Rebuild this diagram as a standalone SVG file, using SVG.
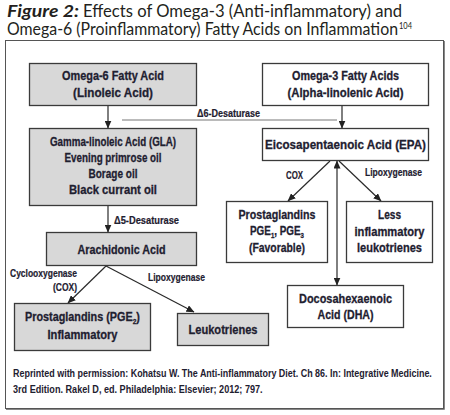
<svg xmlns="http://www.w3.org/2000/svg" width="450" height="415" viewBox="0 0 450 415">
<defs>
<marker id="ah" markerUnits="userSpaceOnUse" markerWidth="8" markerHeight="7" refX="7.5" refY="3.5" orient="auto-start-reverse">
<path d="M0,0 L8,3.5 L0,7 z" fill="#222"/>
</marker>
</defs>
<style>
.t{font-family:Lato,'Open Sans',sans-serif;fill:#231f20}
.n{font-family:'Liberation Sans',Arial,sans-serif;font-weight:bold;font-size:13px;fill:#1e2030;stroke:#1e2030;stroke-width:0.3;text-anchor:middle}
.l{font-family:'Liberation Sans',Arial,sans-serif;font-weight:bold;font-size:10.5px;fill:#1e2030;stroke:#1e2030;stroke-width:0.2}
.c{font-family:'Liberation Sans',Arial,sans-serif;font-weight:bold;font-size:10px;fill:#1e2030}
.g{fill:#d8d8d8;stroke:#3a3a3a;stroke-width:1.3}
.w{fill:#fff;stroke:#3a3a3a;stroke-width:1.3}
.e{stroke:#2a2a2a;stroke-width:1.2;fill:none}
</style>
<rect width="450" height="415" fill="#fff"/>
<g id="title">
<text class="t" x="7" y="17" font-size="17.5" font-weight="bold" font-style="italic" textLength="72" lengthAdjust="spacingAndGlyphs">Figure 2:</text>
<text class="t" x="83" y="17" font-size="17.5" textLength="319" lengthAdjust="spacingAndGlyphs">Effects of Omega-3 (Anti-inflammatory) and</text>
<text class="t" x="7" y="35" font-size="17.5" textLength="391" lengthAdjust="spacingAndGlyphs">Omega-6 (Proinflammatory) Fatty Acids on Inflammation</text>
<text class="t" x="399" y="29" font-size="8.5" textLength="13" lengthAdjust="spacingAndGlyphs">104</text>
</g>
<g id="frame">
<rect x="5.5" y="40.5" width="438" height="368" fill="none" stroke="#555" stroke-width="1"/>
<polyline points="444.5,41 444.5,409.5 6,409.5" fill="none" stroke="#888" stroke-width="1"/>
</g>
<g id="connectors">
<line class="e" x1="108" y1="106" x2="108" y2="128" marker-end="url(#ah)"/>
<line class="e" x1="342" y1="106" x2="342" y2="128" marker-end="url(#ah)"/>
<line stroke="#777" stroke-width="1" x1="122" y1="120" x2="337" y2="120"/>
<line class="e" x1="108" y1="206" x2="108" y2="232" marker-end="url(#ah)"/>
<line class="e" x1="106" y1="266" x2="68" y2="303" marker-end="url(#ah)"/>
<line class="e" x1="106" y1="266" x2="194" y2="312" marker-end="url(#ah)"/>
<line class="e" x1="330" y1="161" x2="288" y2="201" marker-end="url(#ah)"/>
<line class="e" x1="339" y1="161" x2="381" y2="201" marker-end="url(#ah)"/>
<line class="e" stroke-width="1.8" x1="337" y1="161" x2="337" y2="285" marker-start="url(#ah)" marker-end="url(#ah)"/>
<text class="l" x="197" y="116.5" textLength="63" lengthAdjust="spacingAndGlyphs">Δ6-Desaturase</text>
<text class="l" x="114" y="224" textLength="65" lengthAdjust="spacingAndGlyphs">Δ5-Desaturase</text>
<text class="l" x="77" y="277" text-anchor="end" textLength="67" lengthAdjust="spacingAndGlyphs">Cyclooxygenase</text>
<text class="l" x="77" y="291" text-anchor="end" textLength="24" lengthAdjust="spacingAndGlyphs">(COX)</text>
<text class="l" x="148" y="281" textLength="57" lengthAdjust="spacingAndGlyphs">Lipoxygenase</text>
<text class="l" x="286" y="179" textLength="17" lengthAdjust="spacingAndGlyphs">COX</text>
<text class="l" x="365" y="176" textLength="57" lengthAdjust="spacingAndGlyphs">Lipoxygenase</text>
</g>
<g id="omega6">
<rect class="g" x="29.5" y="63.5" width="167" height="42"/>
<text class="n" x="113" y="80" textLength="102" lengthAdjust="spacingAndGlyphs">Omega-6 Fatty Acid</text>
<text class="n" x="113" y="97" textLength="80" lengthAdjust="spacingAndGlyphs">(Linoleic Acid)</text>
</g>
<g id="omega3">
<rect class="w" x="262.5" y="63.5" width="166" height="42"/>
<text class="n" x="345.5" y="80" textLength="107" lengthAdjust="spacingAndGlyphs">Omega-3 Fatty Acids</text>
<text class="n" x="345.5" y="97" textLength="116" lengthAdjust="spacingAndGlyphs">(Alpha-linolenic Acid)</text>
</g>
<g id="gla">
<rect class="g" x="29.5" y="128.5" width="167" height="77"/>
<text class="n" x="113" y="146" textLength="126" lengthAdjust="spacingAndGlyphs">Gamma-linoleic Acid (GLA)</text>
<text class="n" x="113" y="162" textLength="97" lengthAdjust="spacingAndGlyphs">Evening primrose oil</text>
<text class="n" x="113" y="178" textLength="49" lengthAdjust="spacingAndGlyphs">Borage oil</text>
<text class="n" x="113" y="194" textLength="88" lengthAdjust="spacingAndGlyphs">Black currant oil</text>
</g>
<g id="epa">
<rect class="w" x="262.5" y="128.5" width="166" height="32"/>
<g transform="translate(345.5,0) scale(0.895,1)">
<text class="n" x="0" y="149">Eicosapentaenoic Acid (EPA)</text>
</g>
</g>
<g id="arachidonic">
<rect class="g" x="46.5" y="232.5" width="150" height="33"/>
<text class="n" x="121.5" y="253.5" textLength="88" lengthAdjust="spacingAndGlyphs">Arachidonic Acid</text>
</g>
<g id="pge2">
<rect class="g" x="14.5" y="303.5" width="136" height="47"/>
<g transform="translate(82.5,0) scale(0.833,1)">
<text class="n" x="0" y="321.5">Prostaglandins (PGE<tspan font-size="8" dy="3">2</tspan><tspan dy="-3">)</tspan></text>
</g>
<text class="n" x="82.5" y="338.5" textLength="70" lengthAdjust="spacingAndGlyphs">Inflammatory</text>
</g>
<g id="leukotrienes">
<rect class="g" x="177.5" y="313.5" width="91" height="32"/>
<text class="n" x="223" y="333.5" textLength="69" lengthAdjust="spacingAndGlyphs">Leukotrienes</text>
</g>
<g id="pge13">
<rect class="w" x="226.5" y="201.5" width="101" height="61"/>
<text class="n" x="277" y="219" textLength="77" lengthAdjust="spacingAndGlyphs">Prostaglandins</text>
<g transform="translate(277,0) scale(0.76,1)">
<text class="n" x="0" y="235.5">PGE<tspan font-size="8" dy="3">1</tspan><tspan dy="-3">, PGE</tspan><tspan font-size="8" dy="3">3</tspan></text>
</g>
<text class="n" x="277" y="252" textLength="56" lengthAdjust="spacingAndGlyphs">(Favorable)</text>
</g>
<g id="lesslt">
<rect class="w" x="346.5" y="201.5" width="86" height="61"/>
<text class="n" x="389.5" y="219" textLength="23" lengthAdjust="spacingAndGlyphs">Less</text>
<text class="n" x="389.5" y="235.5" textLength="70" lengthAdjust="spacingAndGlyphs">inflammatory</text>
<text class="n" x="389.5" y="252" textLength="65" lengthAdjust="spacingAndGlyphs">leukotrienes</text>
</g>
<g id="dha">
<rect class="w" x="287.5" y="285.5" width="116" height="42"/>
<text class="n" x="345.5" y="302.5" textLength="93" lengthAdjust="spacingAndGlyphs">Docosahexaenoic</text>
<text class="n" x="345.5" y="319" textLength="56" lengthAdjust="spacingAndGlyphs">Acid (DHA)</text>
</g>
<g id="citation">
<g transform="translate(13,0) scale(0.78,1)">
<text class="c" x="0" y="377" textLength="537" lengthAdjust="spacingAndGlyphs">Reprinted with permission: Kohatsu W. The Anti-inflammatory Diet. Ch 86. In: Integrative Medicine.</text>
<text class="c" x="0" y="393" textLength="320" lengthAdjust="spacingAndGlyphs">3rd Edition. Rakel D, ed. Philadelphia: Elsevier; 2012; 797.</text>
</g>
</g>
</svg>
